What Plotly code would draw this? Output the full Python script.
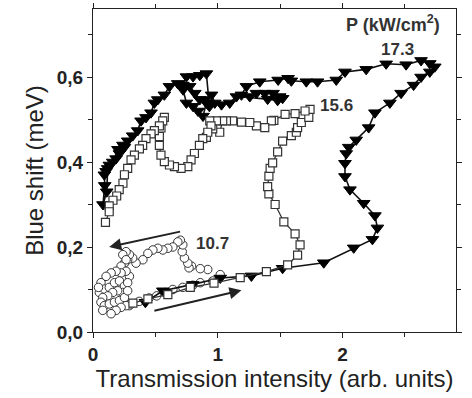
import plotly.graph_objects as go

# 17.3 kW/cm^2 (filled down-triangles)
x173 = [0.42, 0.56, 0.80, 1.02, 1.27, 1.52, 1.85, 2.09, 2.24, 2.28, 2.26, 2.17, 2.06, 2.02, 2.02, 2.03,
        2.05, 2.11, 2.21, 2.26, 2.38, 2.47, 2.57, 2.63, 2.70, 2.74, 2.70, 2.63, 2.51, 2.35, 2.19, 2.02,
        1.95, 1.80, 1.71, 1.59, 1.564, 1.484, 1.337, 1.23, 1.19, 1.257, 1.31, 1.377, 1.444, 1.497, 1.52, 1.48,
        1.40, 1.15, 1.096, 1.03, 0.976, 0.95, 0.909, 0.882, 0.842, 0.802, 0.749, 0.722, 0.775, 0.816, 0.856, 0.893,
        0.933, 0.909, 0.856, 0.802, 0.749, 0.72, 0.679, 0.613, 0.572, 0.519, 0.492, 0.465, 0.425, 0.385, 0.358, 0.318,
        0.278, 0.252, 0.212, 0.185, 0.131, 0.105, 0.091, 0.094, 0.08, 0.11, 0.118, 0.158, 0.20, 0.24]
y173 = [0.070, 0.097, 0.112, 0.127, 0.132, 0.150, 0.163, 0.198, 0.218, 0.245, 0.274, 0.303, 0.335, 0.366, 0.397, 0.420,
        0.435, 0.452, 0.481, 0.516, 0.539, 0.562, 0.581, 0.600, 0.612, 0.624, 0.632, 0.639, 0.629, 0.631, 0.618, 0.612,
        0.593, 0.589, 0.589, 0.591, 0.597, 0.593, 0.589, 0.578, 0.558, 0.554, 0.562, 0.562, 0.562, 0.554, 0.550, 0.545,
        0.548, 0.554, 0.539, 0.535, 0.539, 0.558, 0.539, 0.508, 0.520, 0.531, 0.539, 0.570, 0.578, 0.562, 0.547, 0.547,
        0.531, 0.608, 0.604, 0.601, 0.601, 0.581, 0.585, 0.578, 0.558, 0.547, 0.539, 0.516, 0.505, 0.497, 0.474, 0.462,
        0.450, 0.435, 0.420, 0.408, 0.393, 0.378, 0.370, 0.345, 0.300, 0.330, 0.385, 0.400, 0.430, 0.440]

# 15.6 kW/cm^2 (open squares)
x156 = [0.32, 0.44, 0.60, 0.78, 0.97, 1.18, 1.39, 1.56, 1.64, 1.66, 1.62, 1.53, 1.46, 1.41, 1.40, 1.41,
        1.42, 1.44, 1.48, 1.52, 1.59, 1.63, 1.64, 1.67, 1.73, 1.74, 1.70, 1.62, 1.54, 1.45, 1.43, 1.377,
        1.31, 1.257, 1.19, 1.12, 1.07, 1.04, 1.016, 0.96, 0.99, 0.936, 0.946, 0.909, 0.92, 0.88, 0.853, 0.813,
        0.786, 0.76, 0.706, 0.653, 0.613, 0.572, 0.545, 0.532, 0.532, 0.545, 0.572, 0.559, 0.532, 0.492, 0.465, 0.425,
        0.398, 0.372, 0.332, 0.305, 0.278, 0.252, 0.24, 0.21, 0.19, 0.16, 0.13, 0.13, 0.10]
y156 = [0.068, 0.078, 0.088, 0.105, 0.115, 0.128, 0.142, 0.158, 0.181, 0.205, 0.231, 0.259, 0.300, 0.325, 0.342, 0.367,
        0.385, 0.398, 0.424, 0.449, 0.462, 0.470, 0.481, 0.493, 0.505, 0.524, 0.520, 0.514, 0.512, 0.498, 0.497, 0.481,
        0.485, 0.493, 0.494, 0.497, 0.497, 0.497, 0.470, 0.478, 0.497, 0.497, 0.485, 0.458, 0.470, 0.455, 0.439, 0.420,
        0.405, 0.389, 0.385, 0.389, 0.393, 0.401, 0.416, 0.439, 0.460, 0.480, 0.505, 0.497, 0.485, 0.474, 0.466, 0.455,
        0.439, 0.431, 0.416, 0.405, 0.385, 0.370, 0.350, 0.335, 0.320, 0.310, 0.297, 0.283, 0.258]

# 10.7 kW/cm^2 (open circles)
x107 = [0.29, 0.37, 0.45, 0.51, 0.58, 0.64, 0.72, 0.80, 0.86, 0.96, 1.02, 0.92, 0.86, 0.79, 0.77, 0.76,
        0.733, 0.715, 0.72, 0.70, 0.68, 0.64, 0.60, 0.56, 0.52, 0.48, 0.44, 0.40, 0.345, 0.318, 0.278, 0.292,
        0.265, 0.239, 0.252, 0.265, 0.225, 0.292, 0.265, 0.225, 0.185, 0.145, 0.105, 0.064, 0.051, 0.091, 0.131, 0.172,
        0.212, 0.252, 0.278, 0.238, 0.198, 0.158, 0.118, 0.078, 0.064, 0.091, 0.131, 0.172, 0.212, 0.252, 0.305, 0.265,
        0.225, 0.185, 0.145, 0.078, 0.044, 0.278]
y107 = [0.062, 0.072, 0.080, 0.085, 0.093, 0.100, 0.105, 0.110, 0.116, 0.120, 0.135, 0.147, 0.149, 0.155, 0.151, 0.162,
        0.174, 0.189, 0.205, 0.216, 0.212, 0.200, 0.197, 0.193, 0.197, 0.193, 0.185, 0.170, 0.162, 0.174, 0.170, 0.182,
        0.189, 0.182, 0.162, 0.170, 0.155, 0.131, 0.143, 0.139, 0.143, 0.139, 0.131, 0.116, 0.093, 0.101, 0.105, 0.116,
        0.120, 0.108, 0.116, 0.093, 0.097, 0.093, 0.085, 0.081, 0.070, 0.062, 0.066, 0.070, 0.074, 0.081, 0.066, 0.062,
        0.058, 0.051, 0.043, 0.051, 0.105, 0.097]

fig = go.Figure()
fig.add_trace(go.Scatter(x=x107, y=y107, mode="markers",
                         marker=dict(symbol="circle", size=8.5, color="white", line=dict(color="#333", width=1))))
fig.add_trace(go.Scatter(x=x173, y=y173, mode="lines+markers", line=dict(color="#111", width=1.6),
                         marker=dict(symbol="triangle-down", size=11, color="black", line=dict(color="black", width=1))))
fig.add_trace(go.Scatter(x=x156, y=y156, mode="lines+markers", line=dict(color="#333", width=1.3),
                         marker=dict(symbol="square", size=8, color="white", line=dict(color="#333", width=1.2))))

lab = dict(family="Liberation Sans", size=17, color="#333")
ann = [
    dict(x=2.80, y=0.695, text="<b>P (kW/cm<sup>2</sup>)</b>", showarrow=False, xanchor="right",
         yanchor="bottom", font=dict(family="Liberation Sans", size=18, color="#333")),
    dict(x=2.44, y=0.664, text="<b>17.3</b>", showarrow=False, font=lab),
    dict(x=1.95, y=0.534, text="<b>15.6</b>", showarrow=False, font=lab),
    dict(x=0.955, y=0.208, text="<b>10.7</b>", showarrow=False, font=lab),
    dict(x=0.13, y=0.20, ax=0.71, ay=0.237, axref="x", ayref="y", xref="x", yref="y", text="",
         showarrow=True, arrowhead=2, arrowsize=1.2, arrowwidth=2, arrowcolor="#222"),
    dict(x=1.19, y=0.098, ax=0.48, ay=0.049, axref="x", ayref="y", xref="x", yref="y", text="",
         showarrow=True, arrowhead=2, arrowsize=1.2, arrowwidth=2, arrowcolor="#222"),
]

axcommon = dict(showline=True, linecolor="#222", linewidth=1.2, mirror="allticks", ticks="outside",
                ticklen=5, tickwidth=1, tickcolor="#222", showgrid=False, zeroline=False,
                tickfont=dict(family="Liberation Sans", size=19, color="#222", weight="bold"))

fig.update_layout(
    width=472, height=398, margin=dict(l=93, r=16, t=3, b=66),
    paper_bgcolor="white", plot_bgcolor="white", showlegend=False,
    separators=", ",
    annotations=ann,
    xaxis=dict(range=[0, 2.91], tickvals=[0, 1, 2], tickformat="d",
               minor=dict(tickvals=[0.5, 1.5, 2.5], ticks="outside", ticklen=4, tickcolor="#222"),
               title=dict(text="Transmission intensity (arb. units)", standoff=2,
                          font=dict(family="Liberation Sans", size=24, color="#222")),
               **axcommon),
    yaxis=dict(range=[0, 0.76], tickvals=[0, 0.2, 0.4, 0.6], tickformat=".1f",
               minor=dict(tickvals=[0.1, 0.3, 0.5, 0.7], ticks="outside", ticklen=4, tickcolor="#222"),
               title=dict(text="Blue shift (meV)", standoff=6,
                          font=dict(family="Liberation Sans", size=24, color="#222")),
               **axcommon),
)

fig.write_html("out.html")
